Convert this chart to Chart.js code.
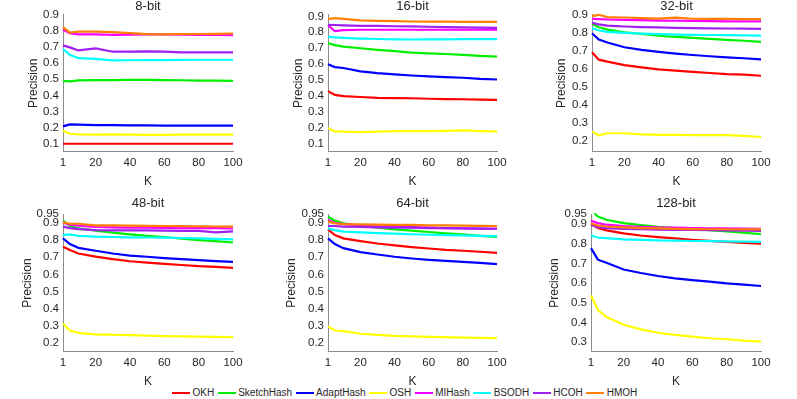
<!DOCTYPE html>
<html>
<head>
<meta charset="utf-8">
<script src="https://cdn.jsdelivr.net/npm/chart.js@4/dist/chart.umd.min.js"></script>
<style>
  body { margin: 0; background: #fff; width: 797px; height: 399px; overflow: hidden; position: relative; font-family: "Liberation Sans", Arial, sans-serif; }
  canvas { position: absolute; }
  #legend { position: absolute; left: 172px; top: 387px; display: flex; align-items: center; font-size: 10px; color: #262626; white-space: nowrap; }
  #legend .item { display: flex; align-items: center; margin-right: 3.5px; }
  #legend .swatch { width: 18px; height: 2px; margin-right: 2.5px; }
</style>
</head>
<body>
<div id="legend"></div>
<script>
/*global Chart*/
// K values where precision was measured
var K = [1, 5, 10, 20, 30, 40, 50, 60, 70, 80, 90, 100]
var methods = ['OKH', 'SketchHash', 'AdaptHash', 'OSH', 'MIHash', 'BSODH', 'HCOH', 'HMOH']
var colors = ['#ff0000', '#00ee00', '#0000ff', '#ffff00', '#ff00ff', '#00ffff', '#a020f0', '#ff8000']

// 8-bit
var okh8 = [0.100, 0.100, 0.100, 0.100, 0.100, 0.100, 0.100, 0.100, 0.100, 0.100, 0.100, 0.100]
var sketch8 = [0.490, 0.487, 0.493, 0.495, 0.495, 0.496, 0.496, 0.495, 0.494, 0.492, 0.491, 0.490]
var adapt8 = [0.208, 0.220, 0.219, 0.216, 0.215, 0.214, 0.214, 0.213, 0.213, 0.213, 0.213, 0.212]
var osh8 = [0.181, 0.162, 0.158, 0.157, 0.158, 0.156, 0.155, 0.155, 0.156, 0.156, 0.156, 0.157]
var mi8 = [0.807, 0.786, 0.778, 0.779, 0.776, 0.777, 0.778, 0.779, 0.777, 0.776, 0.775, 0.774]
var bsodh8 = [0.687, 0.652, 0.631, 0.627, 0.617, 0.618, 0.619, 0.619, 0.620, 0.621, 0.621, 0.621]
var hcoh8 = [0.710, 0.698, 0.679, 0.691, 0.671, 0.672, 0.673, 0.671, 0.667, 0.667, 0.667, 0.667]
var hmoh8 = [0.824, 0.790, 0.795, 0.795, 0.793, 0.786, 0.780, 0.779, 0.780, 0.781, 0.782, 0.784]

// 16-bit
var okh16 = [0.431, 0.407, 0.400, 0.394, 0.388, 0.387, 0.386, 0.383, 0.381, 0.380, 0.378, 0.376]
var sketch16 = [0.732, 0.720, 0.710, 0.700, 0.690, 0.682, 0.673, 0.668, 0.664, 0.658, 0.652, 0.647]
var adapt16 = [0.599, 0.582, 0.576, 0.555, 0.544, 0.536, 0.529, 0.523, 0.519, 0.515, 0.508, 0.504]
var osh16 = [0.199, 0.178, 0.177, 0.174, 0.177, 0.180, 0.180, 0.180, 0.181, 0.184, 0.180, 0.178]
var mi16 = [0.845, 0.807, 0.814, 0.816, 0.816, 0.816, 0.816, 0.816, 0.816, 0.816, 0.816, 0.816]
var bsodh16 = [0.772, 0.768, 0.765, 0.761, 0.758, 0.756, 0.755, 0.756, 0.756, 0.757, 0.757, 0.757]
var hcoh16 = [0.847, 0.846, 0.844, 0.841, 0.840, 0.838, 0.837, 0.835, 0.833, 0.831, 0.829, 0.828]
var hmoh16 = [0.883, 0.889, 0.885, 0.875, 0.872, 0.870, 0.868, 0.867, 0.867, 0.866, 0.866, 0.866]

// 32-bit
var okh32 = [0.692, 0.651, 0.640, 0.621, 0.608, 0.597, 0.590, 0.583, 0.577, 0.571, 0.568, 0.562]
var sketch32 = [0.850, 0.831, 0.818, 0.803, 0.794, 0.785, 0.777, 0.772, 0.766, 0.761, 0.756, 0.750]
var adapt32 = [0.798, 0.763, 0.746, 0.720, 0.705, 0.694, 0.685, 0.677, 0.670, 0.664, 0.659, 0.653]
var osh32 = [0.252, 0.232, 0.243, 0.243, 0.237, 0.234, 0.234, 0.233, 0.233, 0.233, 0.228, 0.222]
var mi32 = [0.878, 0.876, 0.874, 0.872, 0.870, 0.868, 0.867, 0.866, 0.865, 0.864, 0.864, 0.863]
var bsodh32 = [0.826, 0.813, 0.805, 0.800, 0.796, 0.793, 0.790, 0.789, 0.788, 0.787, 0.786, 0.785]
var hcoh32 = [0.855, 0.847, 0.840, 0.835, 0.832, 0.830, 0.828, 0.826, 0.825, 0.824, 0.823, 0.822]
var hmoh32 = [0.893, 0.900, 0.887, 0.885, 0.882, 0.879, 0.884, 0.878, 0.877, 0.877, 0.876, 0.876]

// 48-bit
var okh48 = [0.761, 0.742, 0.722, 0.704, 0.689, 0.677, 0.669, 0.662, 0.655, 0.648, 0.644, 0.638]
var sketch48 = [0.913, 0.882, 0.868, 0.855, 0.843, 0.833, 0.825, 0.818, 0.808, 0.800, 0.794, 0.786]
var adapt48 = [0.810, 0.777, 0.755, 0.738, 0.722, 0.710, 0.703, 0.695, 0.689, 0.683, 0.678, 0.673]
var osh48 = [0.313, 0.274, 0.260, 0.251, 0.249, 0.247, 0.244, 0.241, 0.240, 0.238, 0.237, 0.235]
var mi48 = [0.903, 0.890, 0.884, 0.876, 0.874, 0.873, 0.872, 0.871, 0.870, 0.869, 0.869, 0.868]
var bsodh48 = [0.829, 0.833, 0.825, 0.820, 0.818, 0.816, 0.815, 0.814, 0.812, 0.810, 0.807, 0.804]
var hcoh48 = [0.878, 0.870, 0.864, 0.858, 0.857, 0.857, 0.856, 0.855, 0.854, 0.853, 0.845, 0.851]
var hmoh48 = [0.903, 0.895, 0.895, 0.886, 0.885, 0.884, 0.883, 0.882, 0.881, 0.880, 0.879, 0.878]

// 64-bit
var okh64 = [0.862, 0.829, 0.810, 0.794, 0.780, 0.769, 0.759, 0.751, 0.743, 0.738, 0.732, 0.726]
var sketch64 = [0.936, 0.913, 0.897, 0.882, 0.872, 0.862, 0.855, 0.847, 0.839, 0.833, 0.825, 0.818]
var adapt64 = [0.810, 0.777, 0.753, 0.730, 0.716, 0.703, 0.693, 0.685, 0.679, 0.673, 0.667, 0.660]
var osh64 = [0.297, 0.274, 0.270, 0.255, 0.249, 0.243, 0.240, 0.237, 0.235, 0.233, 0.231, 0.229]
var mi64 = [0.917, 0.901, 0.893, 0.886, 0.882, 0.878, 0.875, 0.872, 0.870, 0.868, 0.867, 0.866]
var bsodh64 = [0.868, 0.858, 0.849, 0.845, 0.841, 0.837, 0.834, 0.831, 0.829, 0.827, 0.825, 0.823]
var hcoh64 = [0.882, 0.882, 0.878, 0.876, 0.874, 0.873, 0.872, 0.870, 0.869, 0.868, 0.867, 0.866]
var hmoh64 = [0.907, 0.897, 0.893, 0.891, 0.890, 0.889, 0.888, 0.886, 0.885, 0.884, 0.883, 0.882]

// 128-bit
var okh128 = [0.900, 0.880, 0.868, 0.853, 0.842, 0.834, 0.827, 0.820, 0.815, 0.810, 0.805, 0.801]
var sketch128 = [0.975, 0.938, 0.922, 0.905, 0.895, 0.886, 0.880, 0.875, 0.869, 0.863, 0.856, 0.849]
var adapt128 = [0.778, 0.719, 0.703, 0.669, 0.651, 0.636, 0.624, 0.615, 0.607, 0.598, 0.592, 0.585]
var osh128 = [0.537, 0.464, 0.427, 0.388, 0.364, 0.347, 0.336, 0.327, 0.319, 0.314, 0.307, 0.302]
var mi128 = [0.917, 0.905, 0.897, 0.890, 0.886, 0.883, 0.882, 0.880, 0.879, 0.878, 0.877, 0.876]
var bsodh128 = [0.842, 0.832, 0.829, 0.822, 0.820, 0.817, 0.816, 0.814, 0.813, 0.812, 0.811, 0.810]
var hcoh128 = [0.897, 0.885, 0.880, 0.876, 0.874, 0.872, 0.871, 0.870, 0.869, 0.868, 0.867, 0.866]
var hmoh128 = [0.903, 0.893, 0.888, 0.883, 0.880, 0.878, 0.876, 0.875, 0.874, 0.874, 0.873, 0.873]

// tick labels
var xTicks = [1, 20, 40, 60, 80, 100]
var yTicksLow = [0.1, 0.2, 0.3, 0.4, 0.5, 0.6, 0.7, 0.8, 0.9]
var yTicksMid = [0.2, 0.3, 0.4, 0.5, 0.6, 0.7, 0.8, 0.9]
var yTicksHigh = [0.2, 0.3, 0.4, 0.5, 0.6, 0.7, 0.8, 0.9, 0.95]
var yTicks128 = [0.3, 0.4, 0.5, 0.6, 0.7, 0.8, 0.9, 0.95]

// panel layout: L/R/T/B = plot box in page pixels
var panels = [
  { title: '8-bit', series: [okh8, sketch8, adapt8, osh8, mi8, bsodh8, hcoh8, hmoh8], ymin: 0.05, ymax: 0.9, yt: yTicksLow, L: 63, R: 233, T: 15, B: 152, tc: 7, px: 33 },
  { title: '16-bit', series: [okh16, sketch16, adapt16, osh16, mi16, bsodh16, hcoh16, hmoh16], ymin: 0.05, ymax: 0.91, yt: yTicksLow, L: 328, R: 497, T: 15, B: 152, tc: 7, px: 298 },
  { title: '32-bit', series: [okh32, sketch32, adapt32, osh32, mi32, bsodh32, hcoh32, hmoh32], ymin: 0.14, ymax: 0.9, yt: yTicksMid, L: 592, R: 761, T: 15, B: 152, tc: 7, px: 561 },
  { title: '48-bit', series: [okh48, sketch48, adapt48, osh48, mi48, bsodh48, hcoh48, hmoh48], ymin: 0.15, ymax: 0.95, yt: yTicksHigh, L: 63, R: 233, T: 214, B: 351, tc: 203.5, px: 27 },
  { title: '64-bit', series: [okh64, sketch64, adapt64, osh64, mi64, bsodh64, hcoh64, hmoh64], ymin: 0.15, ymax: 0.95, yt: yTicksHigh, L: 328, R: 497, T: 214, B: 351, tc: 203.5, px: 291 },
  { title: '128-bit', series: [okh128, sketch128, adapt128, osh128, mi128, bsodh128, hcoh128, hmoh128], ymin: 0.25, ymax: 0.95, yt: yTicks128, L: 591, R: 761, T: 214, B: 351, tc: 203.5, px: 554 }
]

var textColor = '#262626'
var axisColor = '#8c8c8c'
var fontFamily = '"Liberation Sans", Arial, sans-serif'
var titleSize = 13
var labelSize = 12
var tickSize = 11.5
var padRight = 14

panels.forEach(function (p) {
  var titleLH = titleSize * 1.2
  var labelLH = labelSize * 1.2
  var left = Math.round(p.px - labelLH / 2)
  var top = p.tc - titleLH / 2
  var yw = p.L - left
  var xh = 30 + labelLH / 2
  var titlePad = Math.max(p.T - top - titleLH, 0)
  var w = p.R - left + padRight
  var h = Math.round(p.B + xh - top)

  var canvas = document.createElement('canvas')
  canvas.width = w
  canvas.height = h
  canvas.style.left = left + 'px'
  canvas.style.top = top + 'px'
  document.body.appendChild(canvas)

  var datasets = p.series.map(function (vals, i) {
    return {
      label: methods[i],
      data: vals.map(function (v, j) { return { x: K[j], y: v } }),
      borderColor: colors[i],
      backgroundColor: colors[i],
      borderWidth: 2.2,
      pointRadius: 0,
      tension: 0,
      fill: false,
      clip: 1,
      order: methods.length - i
    }
  })

  new Chart(canvas, {
    type: 'line',
    data: { datasets: datasets },
    options: {
      responsive: false,
      animation: false,
      layout: { padding: { left: 0, top: 0, bottom: 0, right: padRight } },
      plugins: {
        legend: { display: false },
        tooltip: { enabled: false },
        title: {
          display: true,
          fullSize: false,
          text: p.title,
          color: textColor,
          font: { family: fontFamily, size: titleSize, weight: 'normal', lineHeight: 1.2 },
          padding: { top: 0, bottom: titlePad }
        }
      },
      scales: {
        x: {
          type: 'linear',
          min: 1,
          max: 100,
          afterBuildTicks: function (s) { s.ticks = xTicks.map(function (v) { return { value: v } }) },
          afterFit: function (s) { s.height = xh },
          grid: { display: false, drawTicks: false },
          border: { display: true, color: axisColor, width: 1 },
          ticks: {
            color: textColor,
            padding: 4,
            maxRotation: 0,
            autoSkip: false,
            font: { family: fontFamily, size: tickSize },
            callback: function (v) { return String(v) }
          },
          title: {
            display: true,
            text: 'K',
            color: textColor,
            padding: 0,
            font: { family: fontFamily, size: labelSize, lineHeight: 1.2 }
          }
        },
        y: {
          type: 'linear',
          min: p.ymin,
          max: p.ymax,
          afterBuildTicks: function (s) { s.ticks = p.yt.map(function (v) { return { value: v } }) },
          afterFit: function (s) { s.width = yw },
          grid: { display: false, drawTicks: false },
          border: { display: true, color: axisColor, width: 1 },
          ticks: {
            color: textColor,
            padding: 4,
            autoSkip: false,
            font: { family: fontFamily, size: tickSize },
            callback: function (v) { return String(v) }
          },
          title: {
            display: true,
            text: 'Precision',
            color: textColor,
            padding: 0,
            font: { family: fontFamily, size: labelSize, lineHeight: 1.2 }
          }
        }
      }
    }
  })
})

// shared legend under the panels
var legend = document.getElementById('legend')
methods.forEach(function (name, i) {
  var item = document.createElement('div')
  item.className = 'item'
  var sw = document.createElement('span')
  sw.className = 'swatch'
  sw.style.background = colors[i]
  var txt = document.createElement('span')
  txt.textContent = name
  item.appendChild(sw)
  item.appendChild(txt)
  legend.appendChild(item)
})
</script>
</body>
</html>
